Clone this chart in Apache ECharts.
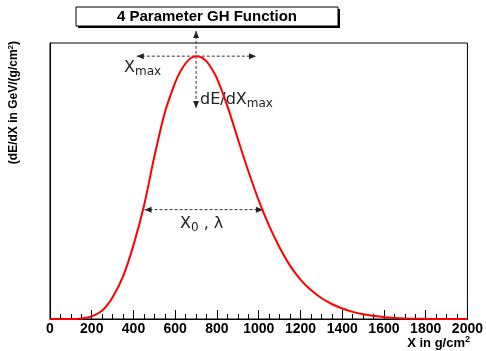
<!DOCTYPE html>
<html>
<head>
<meta charset="utf-8">
<script src="https://cdn.jsdelivr.net/npm/echarts@6/dist/echarts.min.js"></script>
<style>
  html, body { margin: 0; padding: 0; background: #fff; }
  #main { width: 486px; height: 351px; }
</style>
</head>
<body>
<div id="main"></div>
<script>
// X in g/cm2
var depth = [0, 50, 100, 150, 200, 250, 300, 350, 400, 450, 500, 550, 600, 625, 650, 675, 700, 725, 750, 775, 800, 850, 900, 950,
  1000, 1050, 1100, 1150, 1200, 1250, 1300, 1350, 1400, 1450, 1500, 1550, 1600, 1650, 1700, 1750, 1800, 1850, 1900, 1950, 2000];
// dE/dX, peak normalised to 1
var dedx = [0, 0, 0, 0.002, 0.01, 0.032, 0.083, 0.162, 0.281, 0.43, 0.618, 0.785, 0.90, 0.942, 0.973, 0.993, 1.0, 0.995, 0.98, 0.952, 0.915, 0.81, 0.685, 0.563,
  0.451, 0.354, 0.272, 0.203, 0.150, 0.110, 0.080, 0.057, 0.040, 0.027, 0.018, 0.012, 0.007, 0.004, 0.002, 0.001, 0.0005, 0, 0, 0, 0];

var xTicks = [0, 200, 400, 600, 800, 1000, 1200, 1400, 1600, 1800, 2000];

// annotation arrows (data units)
var xmaxArrow = [[416, 1.0], [987, 1.0]];
var peakArrow = [[700, 1.096], [700, 0.803]];
var widthArrow = [[453, 0.416], [1020, 0.416]];

var points = [];
for (var i = 0; i < depth.length; i++) {
  points.push([depth[i], dedx[i]]);
}

var chart = echarts.init(document.getElementById('main'));

var option = {
  animation: false,
  grid: {
    left: 50,
    right: 17,
    top: 43,
    bottom: 32,
    show: true,
    borderColor: '#000',
    borderWidth: 1
  },
  xAxis: {
    type: 'value',
    min: 0,
    max: 2000,
    interval: 200,
    axisLine: { lineStyle: { color: '#000', width: 1 } },
    axisTick: { inside: true, length: 9, lineStyle: { color: '#000' } },
    minorTick: { show: true, splitNumber: 4, length: 5, lineStyle: { color: '#000' } },
    splitLine: { show: false },
    axisLabel: {
      color: '#000',
      fontFamily: 'Liberation Sans',
      fontWeight: 'bold',
      fontSize: 14,
      margin: 3,
      formatter: function (v) { return xTicks.indexOf(v) >= 0 ? String(v) : ''; }
    }
  },
  yAxis: {
    type: 'value',
    min: 0,
    max: 1.05,
    axisLine: { show: true, lineStyle: { color: '#000' } },
    axisTick: { show: false },
    axisLabel: { show: false },
    splitLine: { show: false }
  },
  series: [{
    type: 'line',
    data: points,
    smooth: 0.3,
    showSymbol: false,
    lineStyle: { color: '#ff0000', width: 2 }
  }]
};

chart.setOption(option);

// dashed double arrows
function arrow(a) {
  var p0 = chart.convertToPixel({ gridIndex: 0 }, a[0]);
  var p1 = chart.convertToPixel({ gridIndex: 0 }, a[1]);
  var dx = p1[0] - p0[0], dy = p1[1] - p0[1];
  var len = Math.sqrt(dx * dx + dy * dy);
  var ux = dx / len, uy = dy / len;
  var hl = 7, hw = 3;
  function head(p, sx, sy) {
    return {
      type: 'polygon',
      shape: { points: [
        [p[0], p[1]],
        [p[0] - sx * hl - sy * hw, p[1] - sy * hl + sx * hw],
        [p[0] - sx * hl + sy * hw, p[1] - sy * hl - sx * hw]
      ] },
      style: { fill: '#222' }
    };
  }
  return [
    {
      type: 'line',
      shape: { x1: p0[0], y1: p0[1], x2: p1[0], y2: p1[1] },
      style: { stroke: '#333', lineWidth: 1, lineDash: [3, 2] }
    },
    head(p0, -ux, -uy),
    head(p1, ux, uy)
  ];
}

var graphics = [
  {
    type: 'rect',
    shape: { x: 78, y: 9, width: 262, height: 19 },
    style: { fill: '#000' }
  },
  {
    type: 'rect',
    shape: { x: 76, y: 7, width: 262, height: 19 },
    style: { fill: '#fff', stroke: '#000', lineWidth: 1 }
  },
  {
    type: 'text',
    x: 207, y: 17,
    style: {
      text: '4 Parameter GH Function',
      font: 'bold 15px "Liberation Sans"',
      fill: '#000',
      align: 'center',
      verticalAlign: 'middle'
    }
  },
  {
    type: 'text',
    x: 470, y: 343,
    style: {
      text: 'X in g/cm{sup|2}',
      font: 'bold 13px "Liberation Sans"',
      fill: '#000',
      align: 'right',
      verticalAlign: 'middle',
      rich: { sup: { font: 'bold 9px "Liberation Sans"', padding: [0, 0, 6, 0] } }
    }
  },
  {
    type: 'text',
    x: 14, y: 41,
    rotation: Math.PI / 2,
    style: {
      text: '(dE/dX in GeV/(g/cm{sup|2})',
      font: 'bold 12px "Liberation Sans"',
      fill: '#000',
      align: 'right',
      verticalAlign: 'middle',
      rich: { sup: { font: 'bold 8px "Liberation Sans"', padding: [0, 0, 6, 0] } }
    }
  },
  {
    type: 'text',
    x: 124, y: 68,
    style: {
      text: 'X{sub|max}',
      font: '16px "DejaVu Sans"',
      fill: '#222',
      verticalAlign: 'middle',
      rich: { sub: { font: '12px "DejaVu Sans"', padding: [8, 0, 0, 0] } }
    }
  },
  {
    type: 'text',
    x: 200, y: 100,
    style: {
      text: 'dE/dX{sub|max}',
      font: '16px "DejaVu Sans"',
      fill: '#222',
      verticalAlign: 'middle',
      rich: { sub: { font: '12px "DejaVu Sans"', padding: [8, 0, 0, 0] } }
    }
  },
  {
    type: 'text',
    x: 180, y: 224,
    style: {
      text: 'X{sub|0} , λ',
      font: '16px "DejaVu Sans"',
      fill: '#222',
      verticalAlign: 'middle',
      rich: { sub: { font: '12px "DejaVu Sans"', padding: [8, 0, 0, 0] } }
    }
  }
];

graphics = graphics.concat(arrow(xmaxArrow), arrow(peakArrow), arrow(widthArrow));
chart.setOption({ graphic: graphics });
</script>
</body>
</html>
